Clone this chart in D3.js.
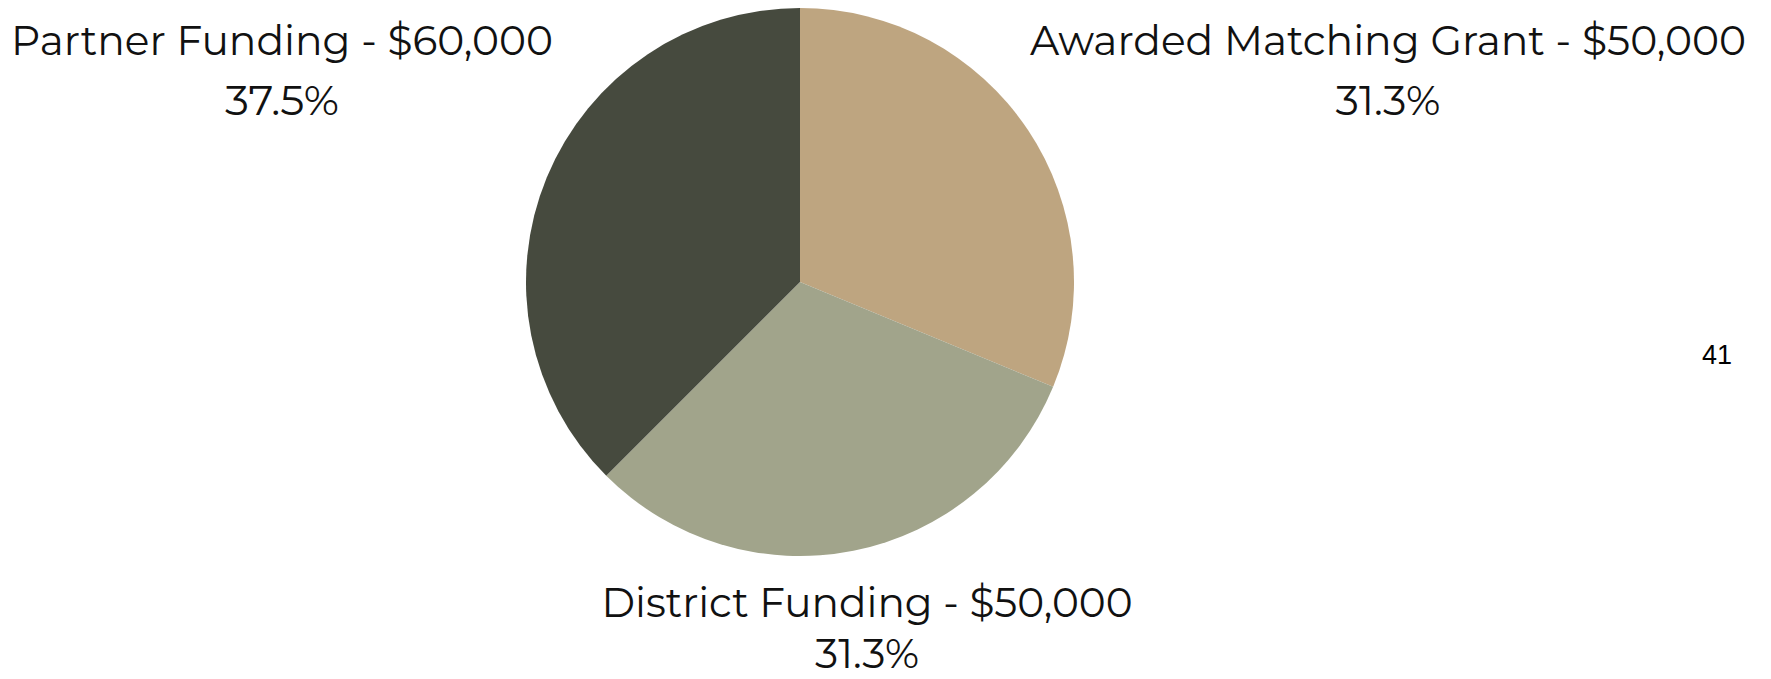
<!DOCTYPE html>
<html>
<head>
<meta charset="utf-8">
<script src="https://cdn.jsdelivr.net/npm/d3@7"></script>
<style>
  html, body { margin: 0; padding: 0; background: #ffffff; }
  svg { display: block; }
</style>
</head>
<body>
<script>
const categories = ["Awarded Matching Grant", "District Funding", "Partner Funding"];
const amounts = [50000, 50000, 60000];
const percentLabels = ["31.3%", "31.3%", "37.5%"];
const sliceColors = ["#bea580", "#a1a48b", "#464a3e"];
const pageNumber = "41";

const W = 1771, H = 679;
const cx = 800, cy = 282, R = 274;

const svg = d3.select("body").append("svg").attr("width", W).attr("height", H);

const pie = d3.pie().sort(null).value(d => d.value);
const data = categories.map((c, i) => ({ name: c, value: amounts[i], pct: percentLabels[i], color: sliceColors[i] }));
const arcs = pie(data);
const arc = d3.arc().innerRadius(0).outerRadius(R);

svg.append("g").attr("transform", `translate(${cx},${cy})`)
  .selectAll("path").data(arcs).join("path")
  .attr("d", arc)
  .attr("fill", d => d.data.color);

// label layout (positions only)
const labelPos = [
  { x: 1388, y1: 55, y2: 115, w1: 716, w2: 105 },
  { x: 867, y1: 617, y2: 668, w1: 531, w2: 104 },
  { x: 282, y1: 55, y2: 115, w1: 542, w2: 114 }
];
const fmt = d3.format("$,");
const font = "Montserrat, 'Open Sans', Lato, sans-serif";
arcs.forEach((a, i) => {
  const p = labelPos[i];
  svg.append("text")
    .attr("x", p.x).attr("y", p.y1)
    .attr("text-anchor", "middle")
    .attr("font-family", font).attr("font-size", 41)
    .attr("fill", "#111")
    .attr("textLength", p.w1).attr("lengthAdjust", "spacingAndGlyphs")
    .text(`${a.data.name} - ${fmt(a.data.value)}`);
  svg.append("text")
    .attr("x", p.x).attr("y", p.y2)
    .attr("text-anchor", "middle")
    .attr("font-family", font).attr("font-size", 41)
    .attr("fill", "#111")
    .attr("textLength", p.w2).attr("lengthAdjust", "spacingAndGlyphs")
    .text(a.data.pct);
});

svg.append("text")
  .attr("x", 1717).attr("y", 364)
  .attr("text-anchor", "middle")
  .attr("font-family", "'Liberation Sans', Arimo, Arial, sans-serif")
  .attr("font-size", 27)
  .attr("fill", "#000")
  .text(pageNumber);
</script>
</body>
</html>
